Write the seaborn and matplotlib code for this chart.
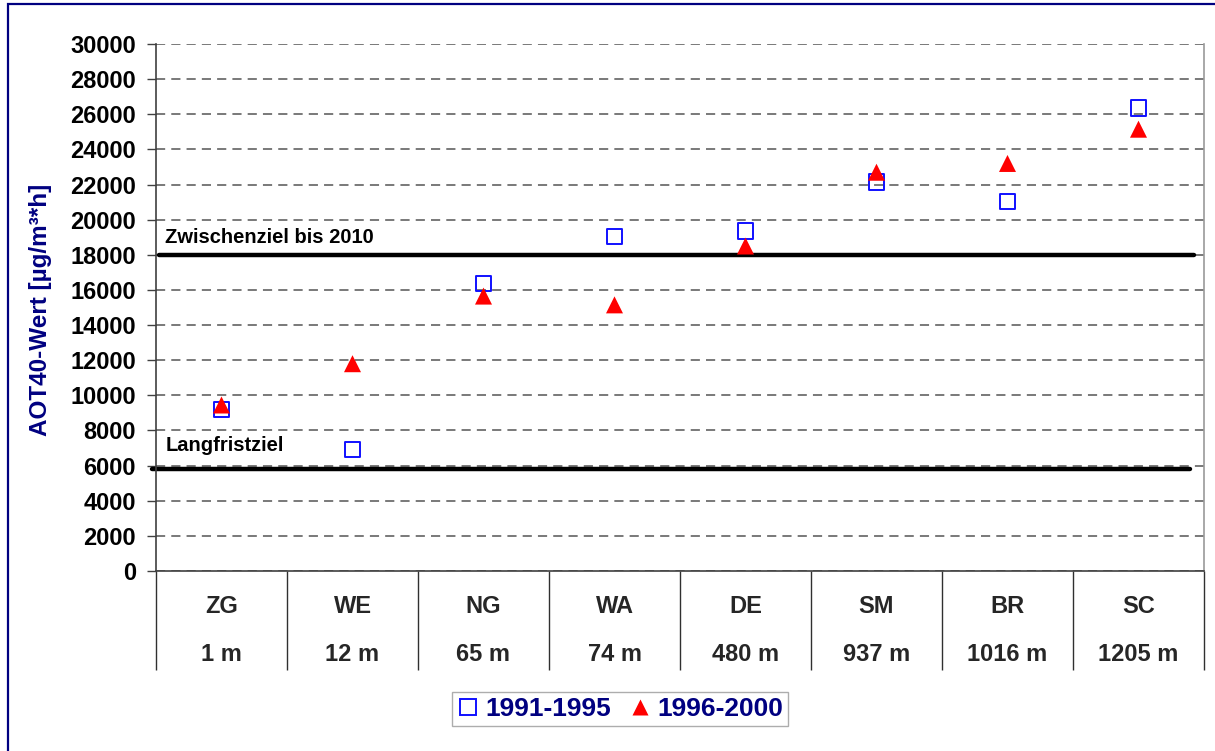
import numpy as np
import pandas as pd
import seaborn as sns
import matplotlib.pyplot as plt
from matplotlib.patches import Rectangle
from matplotlib.lines import Line2D

# data
stations = ['ZG', 'WE', 'NG', 'WA', 'DE', 'SM', 'BR', 'SC']
heights = ['1 m', '12 m', '65 m', '74 m', '480 m', '937 m', '1016 m', '1205 m']
aot_1991_1995 = [9200, 6900, 16350, 19050, 19350, 22150, 21050, 26350]
aot_1996_2000 = [9450, 11800, 15650, 15150, 18500, 22700, 23200, 25150]
period_labels = ['1991-1995', '1996-2000']
target_interim = 18000
target_longterm = 5800
y_ticks = list(range(0, 30001, 2000))

sns.set_theme(style='white')
plt.rcParams['font.family'] = ['Liberation Sans', 'DejaVu Sans']
plt.rcParams['font.weight'] = 'bold'

pos = np.arange(len(stations))
df = pd.DataFrame({'pos': pos, 'station': stations,
                   period_labels[0]: aot_1991_1995,
                   period_labels[1]: aot_1996_2000})

fig = plt.figure(figsize=(12.15, 7.51), dpi=100)
ax = fig.add_axes([156 / 1215, 180 / 751, 1048 / 1215, 527 / 751])

# grid
ax.set_axisbelow(True)
ax.grid(axis='y', color='#555555', linestyle=(0, (6, 4)), linewidth=1.1)
ax.grid(axis='x', visible=False)

# target lines
ax.axhline(target_interim, xmin=0.003, xmax=0.99, color='black', lw=3.2, zorder=2)
ax.axhline(target_longterm, xmin=-0.004, xmax=0.987, color='black', lw=3.2, zorder=2, clip_on=False)
ax.text(0.009, 18650, 'Zwischenziel bis 2010', ha='left', va='baseline',
        fontsize=14.5, fontweight='bold', color='black',
        transform=ax.get_yaxis_transform())
ax.text(0.009, 6820, 'Langfristziel', ha='left', va='baseline',
        fontsize=14.5, fontweight='bold', color='black',
        transform=ax.get_yaxis_transform())

# the two series
sns.scatterplot(data=df, x='pos', y=period_labels[0], marker='s', s=121,
                facecolor='none', edgecolor='#1010ff', linewidth=1.4, ax=ax, zorder=3)
sns.scatterplot(data=df, x='pos', y=period_labels[1], marker='^', s=150,
                color='#ff0000', edgecolor='none', linewidth=0, ax=ax, zorder=4)

ax.set_xlim(-0.5, len(stations) - 0.5)
ax.set_ylim(0, 30000)
ax.set_yticks(y_ticks)
ax.set_yticklabels([str(v) for v in y_ticks], fontsize=17, fontweight='bold')
ax.tick_params(axis='y', direction='out', length=6.5, width=1, color='#404040',
               pad=8, left=True, labelcolor='black')

# category table below the axis: band dividers as long ticks
ax.set_xticks(np.arange(-0.5, len(stations)))
ax.set_xticklabels([])
ax.tick_params(axis='x', direction='out', length=71, width=1, color='#303030', bottom=True)
ax.set_xlabel('')
ax.set_ylabel('AOT40-Wert [µg/m³*h]', fontsize=17.5, fontweight='bold', color='#000080')
ax.yaxis.set_label_coords(-0.099, 0.495)

xt = ax.get_xaxis_transform()
for p, code, h in zip(pos, stations, heights):
    ax.text(p, -0.068, code, ha='center', va='center', fontsize=17,
            fontweight='bold', transform=xt)
    ax.text(p, -0.159, h, ha='center', va='center', fontsize=17,
            fontweight='bold', transform=xt)

ax.spines['top'].set_visible(False)
ax.spines['left'].set_color('#404040')
ax.spines['bottom'].set_color('#404040')
ax.spines['right'].set_color('#999999')
for s in ['left', 'bottom', 'right']:
    ax.spines[s].set_linewidth(1.2)

# legend
handles = [Line2D([], [], marker='s', ls='none', ms=11, mfc='none', mec='#1010ff', mew=1.4),
           Line2D([], [], marker='^', ls='none', ms=12, mfc='#ff0000', mec='none')]
leg = fig.legend(handles, period_labels, loc='center', bbox_to_anchor=(620 / 1215, 42 / 751),
                 ncol=2, frameon=True, fancybox=False, edgecolor='#999999',
                 prop={'size': 19, 'weight': 'bold'}, handlelength=0.8,
                 handletextpad=0.25, columnspacing=0.7, borderpad=0.2,
                 borderaxespad=0)
for t in leg.get_texts():
    t.set_color('#000080')

# outer frame (left and top visible)
fig.add_artist(Rectangle((8 / 1215, -0.05), 1.2, (751 - 4) / 751 + 0.05,
                         transform=fig.transFigure, fill=False,
                         edgecolor='#000080', lw=1.6))

fig.savefig('out.png', dpi=100, facecolor='white')
